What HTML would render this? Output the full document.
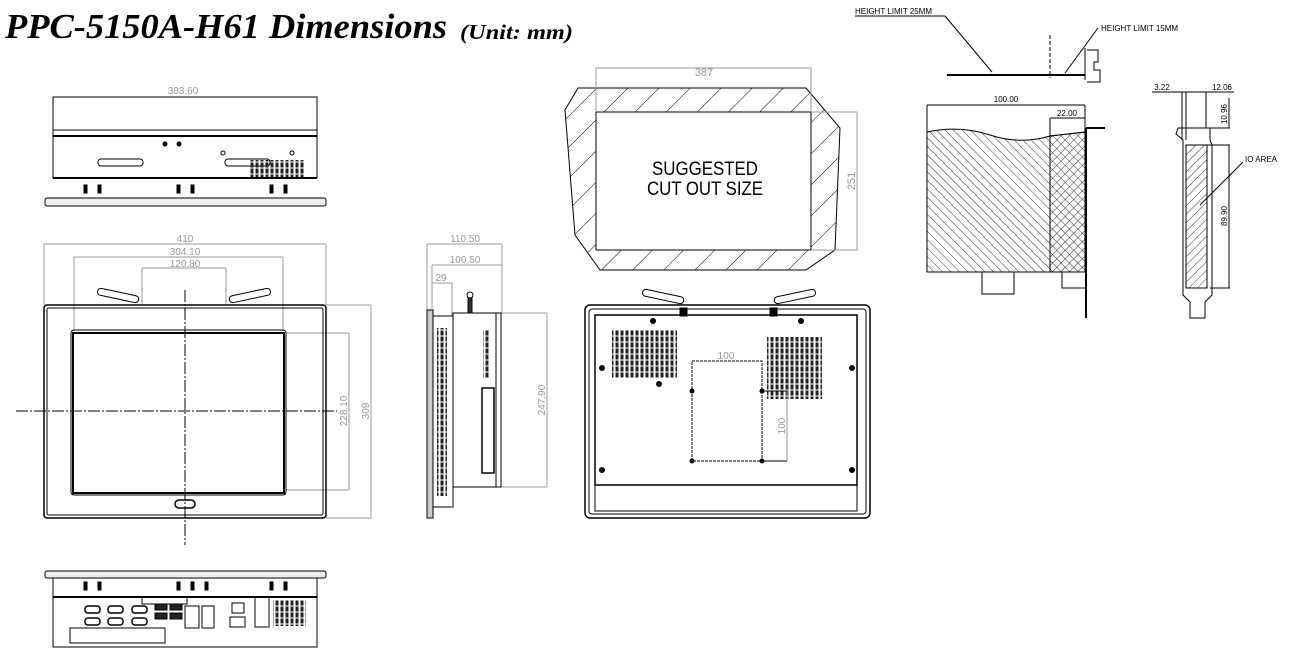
<!DOCTYPE html>
<html><head><meta charset="utf-8"><style>
html,body{margin:0;padding:0;background:#fff;width:1290px;height:654px;overflow:hidden}
svg{display:block}
.t{font-family:"Liberation Sans",sans-serif}
</style></head><body>
<svg width="1290" height="654" viewBox="0 0 1290 654" xmlns="http://www.w3.org/2000/svg">
<defs>
<pattern id="h1" width="22" height="22" patternUnits="userSpaceOnUse" patternTransform="rotate(45)"><line x1="0" y1="0" x2="0" y2="22" stroke="#000" stroke-width="1"/></pattern>
<pattern id="h2" width="6" height="6" patternUnits="userSpaceOnUse" patternTransform="rotate(-45)"><line x1="0" y1="0" x2="0" y2="6" stroke="#000" stroke-width="0.8"/></pattern>
<pattern id="h3" width="6" height="6" patternUnits="userSpaceOnUse" patternTransform="rotate(45)"><line x1="0" y1="0" x2="0" y2="6" stroke="#000" stroke-width="0.8"/></pattern>
<pattern id="vent" width="5" height="6" patternUnits="userSpaceOnUse"><rect x="0.5" y="0.5" width="3" height="5" fill="#222"/></pattern>
</defs>
<text x="5" y="38" font-family="Liberation Serif,serif" font-style="italic" font-weight="bold" font-size="35" textLength="442" lengthAdjust="spacingAndGlyphs">PPC-5150A-H61 Dimensions</text>
<text x="460" y="39" font-family="Liberation Serif,serif" font-style="italic" font-weight="bold" font-size="21" textLength="113" lengthAdjust="spacingAndGlyphs">(Unit: mm)</text>

<g fill="none" stroke="#000" stroke-width="1">
<!-- top view -->
<line x1="53" y1="97" x2="317" y2="97" stroke="#888"/>
<rect x="53" y="97" width="264" height="81"/>
<line x1="53" y1="130" x2="317" y2="130"/><line x1="53" y1="136" x2="317" y2="136" stroke-width="2"/>
<line x1="53" y1="178" x2="317" y2="178" stroke-width="2"/>
<rect x="98" y="159" width="45" height="7" rx="3"/><rect x="225" y="159" width="45" height="7" rx="3"/>
<rect x="250" y="160" width="55" height="17" fill="url(#vent)" stroke="none"/>
<circle cx="165" cy="144" r="2" fill="#000"/><circle cx="179" cy="144" r="2" fill="#000"/>
<circle cx="223" cy="153" r="2"/><circle cx="292" cy="153" r="2"/>
<g fill="#000"><rect x="84" y="185" width="3" height="8"/><rect x="98" y="185" width="3" height="8"/><rect x="177" y="185" width="3" height="8"/><rect x="191" y="185" width="3" height="8"/><rect x="270" y="185" width="3" height="8"/><rect x="284" y="185" width="3" height="8"/></g>
<rect x="45" y="198" width="281" height="8" rx="2" fill="#eee"/>

<!-- front view -->
<g stroke="#999"><line x1="44" y1="244" x2="326" y2="244"/><line x1="44" y1="244" x2="44" y2="305"/><line x1="326" y1="244" x2="326" y2="305"/>
<line x1="74" y1="257" x2="283" y2="257"/><line x1="74" y1="257" x2="74" y2="331"/><line x1="283" y1="257" x2="283" y2="331"/>
<line x1="142" y1="268" x2="226" y2="268"/><line x1="142" y1="268" x2="142" y2="305"/><line x1="226" y1="268" x2="226" y2="305"/>
<line x1="286" y1="333" x2="349" y2="333"/><line x1="286" y1="490" x2="349" y2="490"/><line x1="349" y1="333" x2="349" y2="490"/>
<line x1="326" y1="305" x2="371" y2="305"/><line x1="326" y1="518" x2="371" y2="518"/><line x1="371" y1="305" x2="371" y2="518"/></g>
<rect x="44" y="305" width="282" height="213" rx="3" stroke-width="1.5"/>
<rect x="47" y="308" width="276" height="207" rx="2"/>
<rect x="71" y="330" width="215" height="165" rx="3"/>
<rect x="73" y="333" width="211" height="160" stroke-width="2"/>
<line x1="16" y1="411" x2="337" y2="411" stroke-dasharray="12,2,2,2"/>
<line x1="185" y1="290" x2="185" y2="545" stroke-dasharray="12,2,2,2"/>
<rect x="175" y="500" width="20" height="8" rx="4" stroke-width="1.5"/>
<g transform="rotate(12 118 296)"><rect x="97" y="292" width="42" height="7" rx="3.5"/></g>
<g transform="rotate(-12 250 296)"><rect x="229" y="292" width="42" height="7" rx="3.5"/></g>

<!-- bottom IO view -->
<rect x="45" y="571" width="281" height="7" rx="2" fill="#eee"/>
<rect x="53" y="578" width="264" height="69"/>
<line x1="53" y1="597" x2="317" y2="597" stroke-width="2"/>
<g fill="#000"><rect x="84" y="582" width="3" height="8"/><rect x="98" y="582" width="3" height="8"/><rect x="177" y="582" width="3" height="8"/><rect x="191" y="582" width="3" height="8"/><rect x="205" y="582" width="3" height="8"/><rect x="270" y="582" width="3" height="8"/><rect x="284" y="582" width="3" height="8"/></g>
<g stroke-width="1.5"><rect x="85" y="606" width="15" height="7" rx="3"/><rect x="108" y="606" width="15" height="7" rx="3"/><rect x="132" y="606" width="15" height="7" rx="3"/>
<rect x="85" y="618" width="15" height="7" rx="3"/><rect x="108" y="618" width="15" height="7" rx="3"/><rect x="132" y="618" width="15" height="7" rx="3"/></g>
<rect x="155" y="604" width="12" height="6" fill="#222"/><rect x="170" y="604" width="12" height="6" fill="#222"/>
<rect x="155" y="613" width="12" height="6" fill="#222"/><rect x="170" y="613" width="12" height="6" fill="#222"/>
<rect x="185" y="606" width="14" height="22"/><rect x="202" y="606" width="12" height="22"/>
<rect x="142" y="597" width="45" height="7"/>
<rect x="232" y="603" width="12" height="10"/><rect x="230" y="617" width="15" height="10"/>
<rect x="255" y="597" width="14" height="30"/>
<rect x="273" y="600" width="33" height="26" fill="url(#vent)" stroke="none"/>
<rect x="70" y="628" width="95" height="15"/>

<!-- side view -->
<g stroke="#999"><line x1="427" y1="244" x2="502" y2="244"/><line x1="427" y1="244" x2="427" y2="310"/><line x1="502" y1="244" x2="502" y2="313"/>
<line x1="432" y1="265" x2="502" y2="265"/><line x1="432" y1="265" x2="432" y2="316"/>
<line x1="432" y1="283" x2="452" y2="283"/><line x1="452" y1="283" x2="452" y2="316"/>
<line x1="500" y1="313" x2="547" y2="313"/><line x1="500" y1="487" x2="547" y2="487"/><line x1="547" y1="313" x2="547" y2="487"/></g>
<rect x="427" y="310" width="6" height="208" fill="#ccc"/>
<rect x="433" y="316" width="20" height="191"/>
<rect x="437" y="328" width="10" height="168" fill="url(#vent)" stroke="none"/>
<rect x="453" y="313" width="43" height="174"/>
<rect x="496" y="313" width="5" height="174"/>
<rect x="482" y="388" width="12" height="85" stroke-width="1.5"/>
<rect x="483" y="330" width="7" height="48" fill="url(#vent)" stroke="none"/>
<circle cx="470" cy="295" r="3"/><rect x="468" y="298" width="4" height="15" fill="#333"/>

<!-- cutout -->
<path d="M578 88 L806 88 L840 128 L835 250 L806 270 L600 270 L575 235 L565 110 Z" fill="url(#h1)"/>
<rect x="596" y="112" width="215" height="138" fill="#fff"/>
<g stroke="#999"><line x1="596" y1="68" x2="811" y2="68"/><line x1="596" y1="68" x2="596" y2="112"/><line x1="811" y1="68" x2="811" y2="112"/>
<line x1="811" y1="112" x2="857" y2="112"/><line x1="811" y1="250" x2="857" y2="250"/><line x1="857" y1="112" x2="857" y2="250"/></g>

<!-- back view -->
<rect x="585" y="305" width="285" height="213" rx="5" stroke-width="1.5"/>
<rect x="589" y="309" width="277" height="205" rx="3"/>
<rect x="595" y="315" width="262" height="170" stroke-width="1.5"/>
<line x1="595" y1="485" x2="857" y2="485"/>
<rect x="595" y="485" width="262" height="26"/>
<rect x="612" y="330" width="65" height="48" fill="url(#vent)" stroke="none"/>
<rect x="767" y="337" width="55" height="62" fill="url(#vent)" stroke="none"/>
<rect x="692" y="361" width="70" height="100" stroke-dasharray="3,1"/>
<line x1="762" y1="391" x2="787" y2="391"/><line x1="762" y1="461" x2="787" y2="461"/><line x1="787" y1="391" x2="787" y2="461" stroke="#999"/>
<g fill="#000"><circle cx="692" cy="391" r="2"/><circle cx="762" cy="391" r="2"/><circle cx="692" cy="461" r="2"/><circle cx="762" cy="461" r="2"/>
<circle cx="602" cy="368" r="2.5"/><circle cx="852" cy="368" r="2.5"/><circle cx="602" cy="470" r="2.5"/><circle cx="852" cy="470" r="2.5"/>
<circle cx="653" cy="321" r="2.5"/><circle cx="801" cy="321" r="2.5"/><circle cx="659" cy="384" r="2.5"/></g>
<rect x="680" y="308" width="7" height="8" fill="#000"/><rect x="770" y="308" width="7" height="8" fill="#000"/>
<g transform="rotate(12 663 297)"><rect x="642" y="293" width="42" height="7" rx="3.5"/></g>
<g transform="rotate(-12 795 297)"><rect x="774" y="293" width="42" height="7" rx="3.5"/></g>

<!-- PCI card top -->
<line x1="947" y1="75" x2="1085" y2="75" stroke-width="2"/>
<line x1="1050" y1="35" x2="1050" y2="78" stroke-dasharray="4,2"/>
<path d="M1085 48 L1085 80 M1087 50 L1098 50 L1098 62 L1094 62 L1094 70 L1100 70 L1100 82 L1087 82"/>
<line x1="855" y1="16" x2="945" y2="16"/><line x1="945" y1="16" x2="992" y2="72"/>
<line x1="1065" y1="73" x2="1098" y2="28"/>
<!-- PCI card front -->
<path d="M927 132 Q960 125 990 135 Q1020 145 1050 136 L1085 132 L1085 272 L927 272 Z" fill="url(#h2)"/>
<path d="M1050 136 L1085 132 L1085 272 L1050 272 Z" fill="url(#h3)"/>
<line x1="1050" y1="136" x2="1050" y2="272"/>
<line x1="1086" y1="128" x2="1086" y2="318" stroke-width="2"/>
<line x1="1086" y1="128" x2="1105" y2="128" stroke-width="2"/>
<rect x="982" y="272" width="32" height="22"/><rect x="1062" y="272" width="24" height="16"/>
<line x1="927" y1="105" x2="1085" y2="105"/><line x1="927" y1="105" x2="927" y2="132"/>
<line x1="1050" y1="118" x2="1085" y2="118"/><line x1="1050" y1="118" x2="1050" y2="136"/><line x1="1085" y1="105" x2="1085" y2="132"/>
<!-- PCI bracket side -->
<path d="M1178 128 L1210 128 L1210 140 L1212 145 L1212 295 L1205 302 L1205 318 L1190 318 L1190 302 L1183 295 L1183 140 L1176 134 Z"/>
<rect x="1186" y="145" width="21" height="143" fill="url(#h3)"/>
<line x1="1182" y1="92" x2="1182" y2="140"/><line x1="1186" y1="92" x2="1186" y2="140"/><line x1="1206" y1="92" x2="1206" y2="128"/>
<line x1="1152" y1="92" x2="1234" y2="92"/>
<line x1="1210" y1="128" x2="1230" y2="128"/><line x1="1207" y1="145" x2="1230" y2="145"/><line x1="1210" y1="288" x2="1230" y2="288"/>
<line x1="1229" y1="98" x2="1229" y2="128"/><line x1="1229" y1="145" x2="1229" y2="288"/>
<line x1="1200" y1="205" x2="1243" y2="162"/>
</g>

<g class="t" fill="#999" font-size="10">
<text x="183" y="94" text-anchor="middle">383.60</text>
<text x="185" y="242" text-anchor="middle">410</text>
<text x="185" y="255" text-anchor="middle">304.10</text>
<text x="185" y="267" text-anchor="middle">120.80</text>
<text transform="translate(347 411) rotate(-90)" text-anchor="middle">228.10</text>
<text transform="translate(369 411) rotate(-90)" text-anchor="middle">309</text>
<text x="465" y="242" text-anchor="middle">110.50</text>
<text x="465" y="263" text-anchor="middle">100.50</text>
<text x="441" y="281" text-anchor="middle">29</text>
<text transform="translate(545 400) rotate(-90)" text-anchor="middle">247.90</text>
<text x="704" y="76" text-anchor="middle" font-size="11">387</text>
<text transform="translate(855 181) rotate(-90)" text-anchor="middle" font-size="11">251</text>
<text x="726" y="359" text-anchor="middle">100</text>
<text transform="translate(785 426) rotate(-90)" text-anchor="middle">100</text>
</g>
<g class="t" fill="#000">
<text x="705" y="175" text-anchor="middle" font-size="19" textLength="106" lengthAdjust="spacingAndGlyphs">SUGGESTED</text>
<text x="705" y="195" text-anchor="middle" font-size="19" textLength="116" lengthAdjust="spacingAndGlyphs">CUT OUT SIZE</text>
<text x="855" y="14" font-size="8">HEIGHT LIMIT 25MM</text>
<text x="1101" y="31" font-size="8">HEIGHT LIMIT 15MM</text>
<text x="1006" y="102" text-anchor="middle" font-size="8">100.00</text>
<text x="1067" y="116" text-anchor="middle" font-size="8">22.00</text>
<text x="1162" y="90" text-anchor="middle" font-size="8">3.22</text>
<text x="1222" y="90" text-anchor="middle" font-size="8">12.06</text>
<text transform="translate(1227 114) rotate(-90)" text-anchor="middle" font-size="8">10.96</text>
<text transform="translate(1227 216) rotate(-90)" text-anchor="middle" font-size="8">89.90</text>
<text x="1245" y="162" font-size="8">IO AREA</text>
</g>
</svg>
</body></html>
